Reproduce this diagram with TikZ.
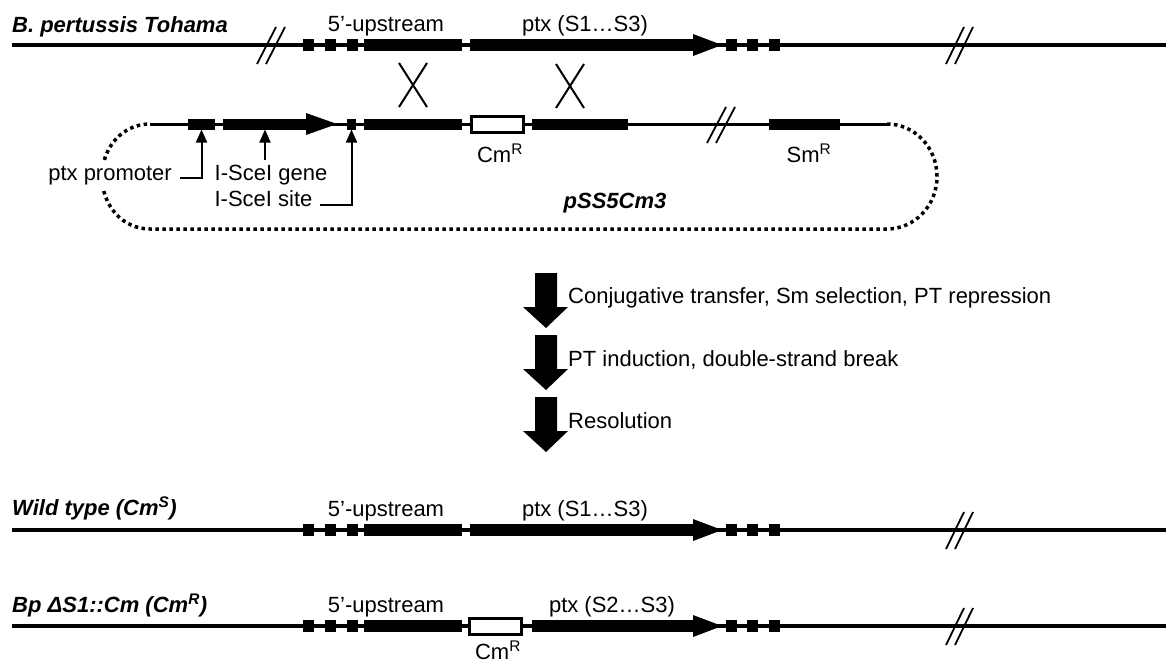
\documentclass[tikz,border=0pt]{standalone}
\usepackage{fontspec}
\setmainfont{Liberation Sans}
\usetikzlibrary{arrows.meta,calc}
\tikzset{
  bb/.style={line width=4pt},
  pbb/.style={line width=3pt},
  blk/.style={fill=black, draw=none, inner sep=0pt, outer sep=0pt, rectangle},
  cmbox/.style={draw=black, fill=white, line width=3pt, inner sep=0pt, outer sep=0pt, minimum width=52pt, minimum height=16pt},
  brk/.style={line width=1.8pt},
  annot/.style={line width=2pt, -{Triangle[length=13pt,width=11pt]}},
  lbl/.style={inner sep=0pt, anchor=base},
  rowlbl/.style={inner sep=0pt, anchor=base west, font=\fontsize{22}{26}\selectfont\bfseries\itshape},
  dotloop/.style={line width=3.5pt, dash pattern=on 3.5pt off 3.5pt},
  bigarrow/.style={fill=black, draw=none},
}
\newcommand\chromrow[2]{%
  \coordinate (#2L) at (12,#1);
  \coordinate (#2R) at (1166,#1);
  \draw[bb] (#2L) -- (#2R);
  \draw[brk] (946,#1+19) -- (964,#1-18);
  \draw[brk] (955,#1+19) -- (973,#1-18);
  \foreach \cx [count=\i] in {308,330.5,352.5,731.5,752.5,774.5}
    \node[blk,minimum width=11pt,minimum height=12pt] (#2b\i) at (\cx,#1) {};
  \node[blk,minimum width=98pt,minimum height=12pt] (#2up) at (413,#1) {};
  \node[lbl] (#2uplbl) at (386,#1-14) {5’-upstream};
}
\newcommand\bigarr[1]{%
  \fill[bigarrow] (535,#1) -- (557,#1) -- (557,#1+34) -- (568,#1+34) -- (546,#1+55) -- (523,#1+34) -- (535,#1+34) -- cycle;
}
\begin{document}
\begin{tikzpicture}[x=1pt,y=-1pt,font=\fontsize{22}{26}\selectfont]
\useasboundingbox (0,0) rectangle (1166,664);

% ---------- top row: B. pertussis Tohama ----------
\chromrow{45}{t}
\draw[brk] (257,64) -- (276,27);
\draw[brk] (266,64) -- (285,27);
\node[rowlbl] (tlbl) at (12,32) {B. pertussis Tohama};
\node[blk,minimum width=223pt,minimum height=12pt] (tptx) at (581.5,45) {};
\fill (693,34) -- (722,45) -- (693,56) -- cycle;
\node[lbl] (tptxlbl) at (585,31) {ptx (S1…S3)};

% crossover marks
\draw[line width=2pt] (399,63) -- (427,107) (427,63) -- (399,107);
\draw[line width=2pt] (556,64) -- (584,108) (584,64) -- (556,108);

% ---------- plasmid pSS5Cm3 ----------
\coordinate (pL) at (150,124);
\coordinate (pR) at (887,124);
\draw[pbb] (pL) -- (pR);
\draw[brk] (707,143) -- (726,107);
\draw[brk] (716,143) -- (735,107);
\node[blk,minimum width=27pt,minimum height=11pt] (prom) at (201.5,124) {};
\node[blk,minimum width=84pt,minimum height=11pt] (gene) at (265,124) {};
\fill (306,113) -- (337,124) -- (306,135) -- cycle;
\node[blk,minimum width=9pt,minimum height=11pt] (site) at (351.5,124) {};
\node[blk,minimum width=98pt,minimum height=11pt] (pup) at (413,124) {};
\node[cmbox] (pcm) at (497,124) {};
\node[blk,minimum width=96pt,minimum height=11pt] (pptx) at (580,124) {};
\node[blk,minimum width=71pt,minimum height=11pt] (psm) at (804.5,124) {};
\node[lbl] (pcmlbl) at (500,162) {Cm\textsuperscript{R}};
\node[lbl] (psmlbl) at (809,162) {Sm\textsuperscript{R}};
\node[lbl,font=\fontsize{22}{26}\selectfont\bfseries\itshape] (pname) at (615,208) {pSS5Cm3};
\draw[dotloop] (pR) .. controls (914.6,124) and (937,147.5) .. (937,176.5)
  .. controls (937,205.5) and (914.6,229) .. (887,229) -- (150,229)
  .. controls (122.4,229) and (102,205.5) .. (102,176.5)
  .. controls (102,147.5) and (122.4,124) .. (pL);

% annotations
\node[fill=white,inner xsep=3pt,inner ysep=4pt,anchor=base east] (promlbl) at (175,180) {ptx promoter};
\coordinate (pa) at (180,178);
\draw[annot] (pa) -| (prom.south);
\node[lbl] (genelbl) at (271,180) {I-SceI gene};
\coordinate (ga) at (gene.south |- 0,160);
\draw[annot] (ga) -- (gene.south);
\node[lbl] (sitelbl) at (263.5,206) {I-SceI site};
\coordinate (sa) at (320,205);
\draw[annot] (sa) -| (site.south);

% ---------- process arrows ----------
\bigarr{273}
\bigarr{335}
\bigarr{397}
\node[inner sep=0pt,anchor=base west] (s1) at (568,303) {Conjugative transfer, Sm selection, PT repression};
\node[inner sep=0pt,anchor=base west] (s2) at (568,366) {PT induction, double-strand break};
\node[inner sep=0pt,anchor=base west] (s3) at (568,428) {Resolution};

% ---------- wild type ----------
\chromrow{530}{w}
\node[rowlbl] (wlbl) at (12,515) {Wild type (Cm\textsuperscript{S})};
\node[blk,minimum width=223pt,minimum height=12pt] (wptx) at (581.5,530) {};
\fill (693,519) -- (722,530) -- (693,541) -- cycle;
\node[lbl] (wptxlbl) at (585,516) {ptx (S1…S3)};

% ---------- Bp deltaS1::Cm ----------
\chromrow{626}{m}
\node[rowlbl] (mlbl) at (12,612) {Bp ΔS1::Cm (Cm\textsuperscript{R})};
\node[cmbox] (mcm) at (495,626) {};
\node[blk,minimum width=161pt,minimum height=12pt] (mptx) at (612.5,626) {};
\fill (693,615) -- (722,626) -- (693,637) -- cycle;
\node[lbl] (mptxlbl) at (612,612) {ptx (S2…S3)};
\node[lbl] (mcmlbl) at (498,659) {Cm\textsuperscript{R}};
\end{tikzpicture}
\end{document}
